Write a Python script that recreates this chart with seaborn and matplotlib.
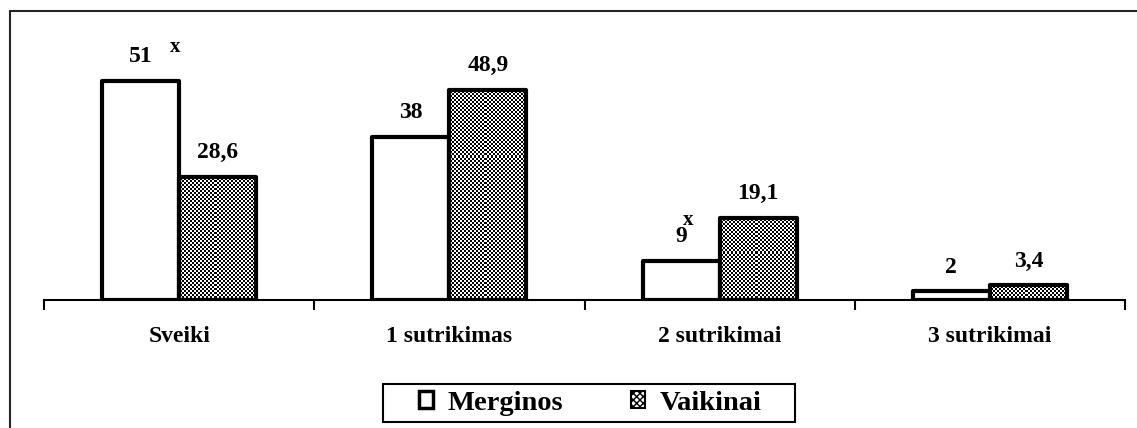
import matplotlib.pyplot as plt
import numpy as np
import pandas as pd
import seaborn as sns
from matplotlib.lines import Line2D
from matplotlib.patches import Patch, Rectangle

categories = ["Sveiki", "1 sutrikimas", "2 sutrikimai", "3 sutrikimai"]
merginos = [51, 38, 9, 2]
vaikinai = [28.6, 48.9, 19.1, 3.4]
merginos_labels = ["51", "38", "9", "2"]
vaikinai_labels = ["28,6", "48,9", "19,1", "3,4"]
groups = ["Merginos", "Vaikinai"]

W, H = 1137, 428


def checkerboard(rows, cols):
    return (np.indices((rows, cols)).sum(axis=0) % 2).astype(float)


def main() -> None:
    sns.set_style("white")
    plt.rcParams["font.family"] = ["Liberation Serif", "DejaVu Serif"]
    plt.rcParams["font.weight"] = "bold"
    plt.rcParams["text.color"] = "black"

    df = pd.DataFrame({
        "cat": categories * 2,
        "val": merginos + vaikinai,
        "grp": [groups[0]] * 4 + [groups[1]] * 4,
    })

    fig = plt.figure(figsize=(W / 100, H / 100), dpi=100)
    ax = fig.add_axes([44 / W, 128 / H, 1081 / W, 258 / H])

    sns.barplot(
        data=df, x="cat", y="val", hue="grp", order=categories, hue_order=groups,
        palette={"Merginos": "white", "Vaikinai": "white"},
        edgecolor="black", linewidth=3, width=0.57, errorbar=None,
        legend=False, ax=ax,
    )

    # checkered fill for Vaikinai bars
    checker = checkerboard(129, 540)
    for bar in ax.containers[1]:
        bar.set_facecolor("none")
        bar.set_zorder(3)
        bar.set_joinstyle("round")
        img = ax.imshow(checker, cmap="gray", extent=(-0.5, 3.5, 0, 60),
                        aspect="auto", interpolation="nearest", zorder=2)
        img.set_clip_path(bar)
    for bar in ax.containers[0]:
        bar.set_zorder(3)
        bar.set_joinstyle("round")
    ax.set_xlim(-0.5, 3.5)
    ax.set_ylim(0, 60)

    ax.bar_label(ax.containers[0], labels=merginos_labels, padding=10,
                 fontsize=17, fontweight="bold", color="black")
    ax.bar_label(ax.containers[1], labels=vaikinai_labels, padding=10,
                 fontsize=17, fontweight="bold", color="black")

    # significance marks
    b0 = ax.containers[0][0]
    ax.annotate("x", (b0.get_x() + b0.get_width() / 2, b0.get_height()),
                xytext=(25, 21), textcoords="offset points",
                ha="center", va="baseline", fontsize=15, fontweight="bold")
    b2 = ax.containers[0][2]
    ax.annotate("x", (b2.get_x() + b2.get_width() / 2, b2.get_height()),
                xytext=(5, 26), textcoords="offset points",
                ha="center", va="baseline", fontsize=15, fontweight="bold")

    for side in ["left", "right", "top"]:
        ax.spines[side].set_visible(False)
    ax.spines["bottom"].set_linewidth(1.5)
    ax.spines["bottom"].set_color("black")
    ax.set_yticks([])
    ax.set_xticks([-0.5, 0.5, 1.5, 2.5, 3.5])
    ax.set_xticklabels([])
    ax.set_xticks(range(len(categories)), minor=True)
    ax.set_xticklabels(categories, minor=True, fontsize=17, fontweight="bold")
    ax.tick_params(axis="x", which="major", direction="out", length=7,
                   width=1.5, color="black", bottom=True)
    ax.tick_params(axis="x", which="minor", length=0, pad=19, labelcolor="black")
    ax.set_xlabel("")
    ax.set_ylabel("")

    handles = [
        Patch(facecolor="white", edgecolor="black", linewidth=2.5),
        Patch(facecolor="white", edgecolor="black", linewidth=1.5, hatch="xxxxx"),
    ]
    fig.legend(handles, groups, loc="center", bbox_to_anchor=(590 / W, 1 - 403 / H),
               ncol=2, frameon=False,
               prop={"family": "Liberation Serif", "weight": "bold", "size": 20.5},
               handlelength=0.5, handleheight=0.5, handletextpad=0.5,
               columnspacing=2.4, borderpad=0.1, borderaxespad=0)
    fig.add_artist(Rectangle((383 / W, 1 - 422 / H), 412 / W, 38 / H,
                             transform=fig.transFigure, fill=False,
                             edgecolor="black", linewidth=1.5))

    # outer chart frame
    fig.add_artist(Line2D([9.5 / W, 9.5 / W], [0, 1 - 11 / H], transform=fig.transFigure,
                          color="#222222", linewidth=1.5))
    fig.add_artist(Line2D([9.5 / W, 1], [1 - 11 / H, 1 - 11 / H], transform=fig.transFigure,
                          color="#222222", linewidth=1.5))

    fig.savefig("out.png", dpi=100)
    plt.close(fig)


if __name__ == "__main__":
    main()
